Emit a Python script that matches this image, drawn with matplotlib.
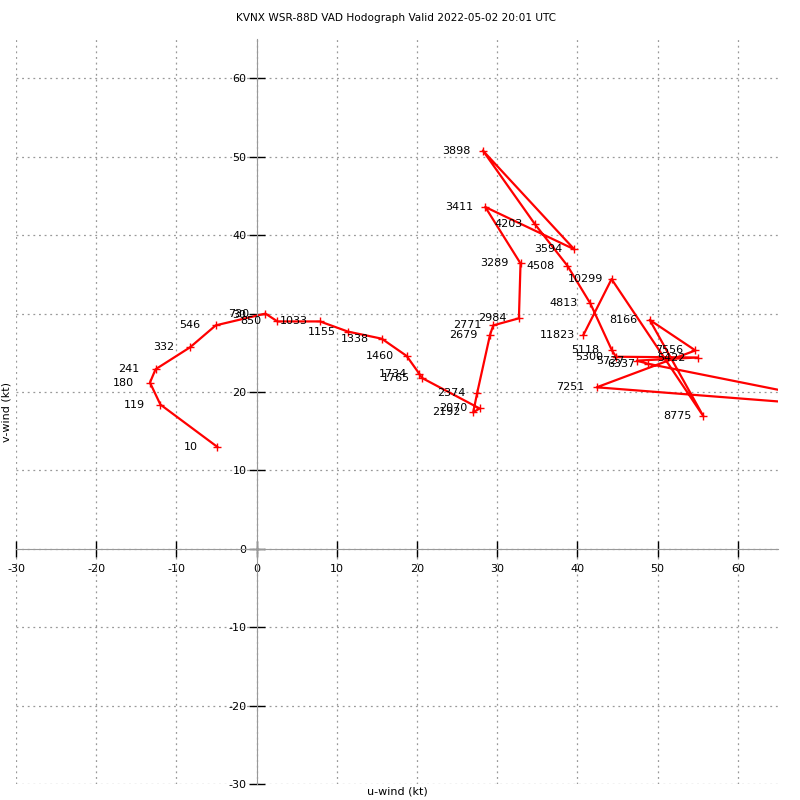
import numpy as np
import matplotlib
matplotlib.use("Agg")
import matplotlib.pyplot as plt

plt.rcParams['axes.unicode_minus'] = False

# VAD heights (m AGL) and wind components (kt)
heights = [10, 119, 180, 241, 332, 546, 730, 850, 1033, 1155, 1338, 1460,
           1734, 1765, 2070, 2192, 2374, 2679, 2771, 2984, 3289, 3411, 3594,
           3898, 4203, 4508, 4813, 5118, 5300, 5422, 5727, 6337, 6642, 6946,
           7251, 7556, 8166, 8775, 10299, 11823]
u_wind = [-4.9, -12.0, -13.3, -12.6, -8.3, -5.1, 1.1, 2.6, 7.9, 11.4, 15.6, 18.7,
          20.3, 20.6, 27.8, 27.0, 27.5, 29.1, 29.5, 32.7, 32.9, 28.5, 39.6,
          28.2, 34.7, 38.75, 41.6, 44.3, 44.8, 55.0, 47.4, 48.8, 85.0, 80.0,
          42.4, 54.7, 49.0, 55.7, 44.25, 40.75]
v_wind = [13.0, 18.4, 21.2, 22.9, 25.7, 28.5, 30.0, 29.0, 29.0, 27.7, 26.8, 24.6,
          22.3, 21.8, 17.9, 17.4, 19.9, 27.3, 28.5, 29.4, 36.4, 43.6, 38.2,
          50.8, 41.4, 36.1, 31.3, 25.3, 24.5, 24.4, 24.0, 23.6, 16.2, 17.6,
          20.6, 25.3, 29.2, 16.9, 34.4, 27.3]

fs = 8
fig = plt.figure(figsize=(8, 8), dpi=100)
ax = fig.add_axes([0.02, 0.02, 0.9525, 0.931])

ax.plot(u_wind, v_wind, color='red', lw=1.6, marker='+', ms=6, mew=1.0)
for h, u, v in zip(heights, u_wind, v_wind):
    ax.annotate(str(h), (u, v), xytext=(-19, 0), textcoords='offset points',
                ha='center', va='center', fontsize=fs, annotation_clip=True)

ax.set_xlim(-30, 65)
ax.set_ylim(-30, 65)
ax.set_xticks(np.arange(-30, 61, 10))
ax.set_yticks(np.arange(-30, 61, 10))

for side in ['left', 'bottom']:
    ax.spines[side].set_position('zero')
    ax.spines[side].set_color('#999999')
ax.spines['top'].set_visible(False)
ax.spines['right'].set_visible(False)
ax.tick_params(direction='inout', length=11.5, width=1, labelsize=fs, color='black')
ax.tick_params(axis='x', pad=5)
ax.tick_params(axis='y', pad=1.5)
ax.grid(True, color='#999999', linestyle=(0, (1.5, 3)), linewidth=0.9)

ax.set_xlabel('u-wind (kt)', fontsize=fs)
ax.set_ylabel('v-wind (kt)', fontsize=fs)
ax.xaxis.set_label_coords(0.5, -0.003, transform=ax.transAxes)
ax.xaxis.label.set_va('top')
ax.yaxis.set_label_coords(-0.006, 0.5, transform=ax.transAxes)
ax.yaxis.label.set_va('bottom')

fig.text(0.495, 1 - 18 / 800, 'KVNX WSR-88D VAD Hodograph Valid 2022-05-02 20:01 UTC',
         ha='center', va='center', fontsize=7.6)

fig.savefig('out.png', dpi=100)
